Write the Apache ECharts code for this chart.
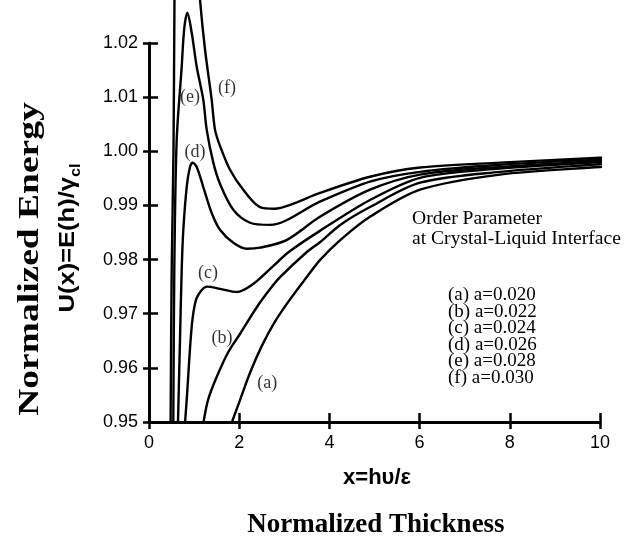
<!DOCTYPE html>
<html><head><meta charset="utf-8">
<script src="https://cdn.jsdelivr.net/npm/echarts@6/dist/echarts.min.js"></script>
<style>html,body{margin:0;padding:0;background:#fff}#c{width:635px;height:540px}</style>
</head><body><div id="c"></div>
<script>
// ---- data ----
const xTickValues = [0, 2, 4, 6, 8, 10];
const yTickValues = [0.95, 0.96, 0.97, 0.98, 0.99, 1.00, 1.01, 1.02];

const aX = [1.84, 2.02, 2.24, 2.51, 2.79, 3.13, 3.50, 3.79, 4.24, 4.90, 6.01, 7.78, 10.0, 10.25];
const aY = [0.950, 0.9541, 0.9591, 0.9642, 0.9685, 0.9727, 0.9768, 0.9799, 0.9836, 0.9879, 0.9929, 0.9957, 0.9971, 0.9972];

const bX = [1.21, 1.31, 1.50, 1.75, 2.02, 2.39, 2.68, 2.90, 3.50, 3.79, 4.24, 4.90, 6.01, 7.78, 10.0, 10.25];
const bY = [0.950, 0.9541, 0.9583, 0.9628, 0.9663, 0.9712, 0.9745, 0.9767, 0.9814, 0.9832, 0.9864, 0.9897, 0.9942, 0.9962, 0.9976, 0.9977];

const cX = [0.80, 0.836, 0.947, 1.04, 1.17, 1.28, 1.574, 1.945, 2.31, 2.74, 3.10, 3.79, 4.90, 6.01, 7.78, 10.0, 10.25];
const cY = [0.950, 0.9541, 0.9676, 0.9725, 0.9744, 0.9750, 0.9746, 0.9740, 0.9755, 0.9787, 0.9814, 0.9853, 0.9910, 0.9951, 0.9968, 0.9980, 0.9981];

const dX = [0.643, 0.687, 0.725, 0.761, 0.836, 0.909, 0.969, 1.058, 1.204, 1.39, 1.574, 1.87, 2.17, 2.46, 3.05, 3.79, 4.90, 6.01, 7.78, 10.0, 10.25];
const dY = [0.950, 0.9652, 0.9781, 0.9855, 0.9934, 0.9971, 0.9979, 0.9971, 0.9934, 0.9886, 0.9855, 0.9831, 0.9820, 0.9822, 0.9836, 0.9879, 0.9929, 0.9957, 0.9971, 0.9982, 0.9983];

const eX = [0.539, 0.561, 0.614, 0.725, 0.761, 0.798, 0.849, 0.947, 1.058, 1.204, 1.279, 1.426, 1.574, 1.869, 2.24, 2.68, 3.79, 4.90, 6.01, 7.78, 10.0, 10.25];
const eY = [0.950, 0.9781, 1.0021, 1.0156, 1.0206, 1.0238, 1.0256, 1.0219, 1.0156, 1.0095, 1.0040, 0.9979, 0.9940, 0.9892, 0.9868, 0.9864, 0.9907, 0.9944, 0.9962, 0.9975, 0.9985, 0.9986];

const fX = [0.479, 0.503, 0.543, 0.565, 0.588, 0.80, 1.109, 1.131, 1.242, 1.39, 1.463, 1.574, 1.796, 2.09, 2.46, 2.79, 3.13, 3.79, 4.90, 6.01, 7.78, 10.0, 10.25];
const fY = [0.950, 0.9781, 1.0000, 1.0280, 1.0450, 1.0500, 1.0317, 1.0280, 1.0188, 1.0095, 1.0040, 1.0010, 0.9966, 0.9929, 0.9897, 0.9894, 0.9901, 0.9923, 0.9953, 0.9970, 0.9979, 0.9988, 0.9989];

const curveNames = ['a', 'b', 'c', 'd', 'e', 'f'];
const labelTexts = ['(a)', '(b)', '(c)', '(d)', '(e)', '(f)'];
const labelX = [2.62, 1.62, 1.31, 1.02, 0.91, 1.73];
const labelY = [0.9572, 0.9655, 0.9775, 0.9999, 1.0099, 1.0116];

const legendTitle = ['Order Parameter', 'at Crystal-Liquid Interface'];
const legendItems = ['(a) a=0.020', '(b) a=0.022', '(c) a=0.024', '(d) a=0.026', '(e) a=0.028', '(f) a=0.030'];

// ---- build ----
const SERIF = '"Liberation Serif", "Times New Roman", serif';
const SANS = '"Liberation Sans", Arial, sans-serif';
const curvesX = [aX, bX, cX, dX, eX, fX];
const curvesY = [aY, bY, cY, dY, eY, fY];

const series = curveNames.map((n, k) => ({
  name: n, type: 'line', xAxisIndex: 0, yAxisIndex: 0,
  data: curvesX[k].map((x, i) => [x, curvesY[k][i]]),
  showSymbol: false, symbol: 'none', clip: false,
  smooth: 0.3,
  lineStyle: { color: '#000', width: 2.4 }, silent: true, z: 3
}));
series.push({
  type: 'scatter', xAxisIndex: 0, yAxisIndex: 0, symbolSize: 0, silent: true,
  data: labelTexts.map((t, i) => ({ name: t, value: [labelX[i], labelY[i]] })),
  label: { show: true, position: 'inside', formatter: p => p.name,
           fontFamily: SERIF, fontSize: 18, color: '#000' }
});

const graphic = [];
legendTitle.forEach((t, i) => graphic.push({
  type: 'text', x: 412, y: 219 + i * 19.5,
  style: { text: t, font: '19.6px ' + SERIF, fill: '#000', textAlign: 'left', align: 'left', textVerticalAlign: 'middle', verticalAlign: 'middle' }
}));
legendItems.forEach((t, i) => graphic.push({
  type: 'text', x: 448, y: 295 + i * 16.6,
  style: { text: t, font: '19px ' + SERIF, fill: '#000', textAlign: 'left', align: 'left', textVerticalAlign: 'middle', verticalAlign: 'middle' }
}));
graphic.push({
  type: 'text', x: 377, y: 478,
  style: { text: 'x=hυ/ε', font: 'bold 22px ' + SANS, fill: '#000', textAlign: 'center', align: 'center', textVerticalAlign: 'middle', verticalAlign: 'middle' }
});
graphic.push({
  type: 'text', x: 376, y: 525,
  style: { text: 'Normalized Thickness', font: 'bold 27px ' + SERIF, fill: '#000', textAlign: 'center', align: 'center', textVerticalAlign: 'middle', verticalAlign: 'middle' }
});
graphic.push({
  type: 'text', x: 30, y: 259, rotation: Math.PI / 2, scaleX: 1.25,
  style: { text: 'Normalized Energy', font: 'bold 30px ' + SERIF, fill: '#000', textAlign: 'center', align: 'center', textVerticalAlign: 'middle', verticalAlign: 'middle' }
});
graphic.push({
  type: 'text', x: 68, y: 238, rotation: Math.PI / 2, scaleX: 1.16,
  style: {
    text: '{m|U(x)=E(h)/γ}{s|cl}', fill: '#000', textAlign: 'center', align: 'center', textVerticalAlign: 'middle', verticalAlign: 'middle',
    rich: {
      m: { fontFamily: SANS, fontWeight: 'bold', fontSize: 22, lineHeight: 30, verticalAlign: 'middle' },
      s: { fontFamily: SANS, fontWeight: 'bold', fontSize: 14, lineHeight: 30, verticalAlign: 'bottom', padding: [8, 0, 0, 0] }
    }
  }
});

const axisLineStyle = { color: '#000', width: 3 };
const tickStyle = { color: '#000', width: 2.5 };

const option = {
  animation: false,
  backgroundColor: '#fff',
  grid: { left: 149, right: 35, top: 43, bottom: 118, containLabel: false },
  xAxis: [
    { type: 'value', min: xTickValues[0], max: xTickValues[xTickValues.length - 1], interval: 2, position: 'bottom',
      axisLine: { show: true, onZero: false, lineStyle: axisLineStyle },
      axisTick: { show: true, inside: false, length: 7, lineStyle: tickStyle },
      axisLabel: { show: true, fontFamily: SANS, fontSize: 18, color: '#000', margin: 12 },
      splitLine: { show: false } },
    { type: 'value', min: xTickValues[0], max: xTickValues[xTickValues.length - 1], interval: 2, position: 'bottom',
      axisLine: { show: false, onZero: false },
      axisTick: { show: true, inside: true, length: 9, lineStyle: tickStyle },
      axisLabel: { show: false }, splitLine: { show: false } }
  ],
  yAxis: [
    { type: 'value', min: yTickValues[0], max: yTickValues[yTickValues.length - 1], interval: 0.01, position: 'left',
      axisLine: { show: true, onZero: false, lineStyle: axisLineStyle },
      axisTick: { show: true, inside: false, length: 6, lineStyle: tickStyle },
      axisLabel: { show: true, fontFamily: SANS, fontSize: 18, color: '#000', margin: 11, formatter: v => v.toFixed(2) },
      splitLine: { show: false } },
    { type: 'value', min: yTickValues[0], max: yTickValues[yTickValues.length - 1], interval: 0.01, position: 'left',
      axisLine: { show: false, onZero: false },
      axisTick: { show: true, inside: true, length: 9, lineStyle: tickStyle },
      axisLabel: { show: false }, splitLine: { show: false } }
  ],
  series: series,
  graphic: graphic
};

const chart = echarts.init(document.getElementById('c'), null, { renderer: 'canvas' });
chart.setOption(option);
</script>
</body></html>
